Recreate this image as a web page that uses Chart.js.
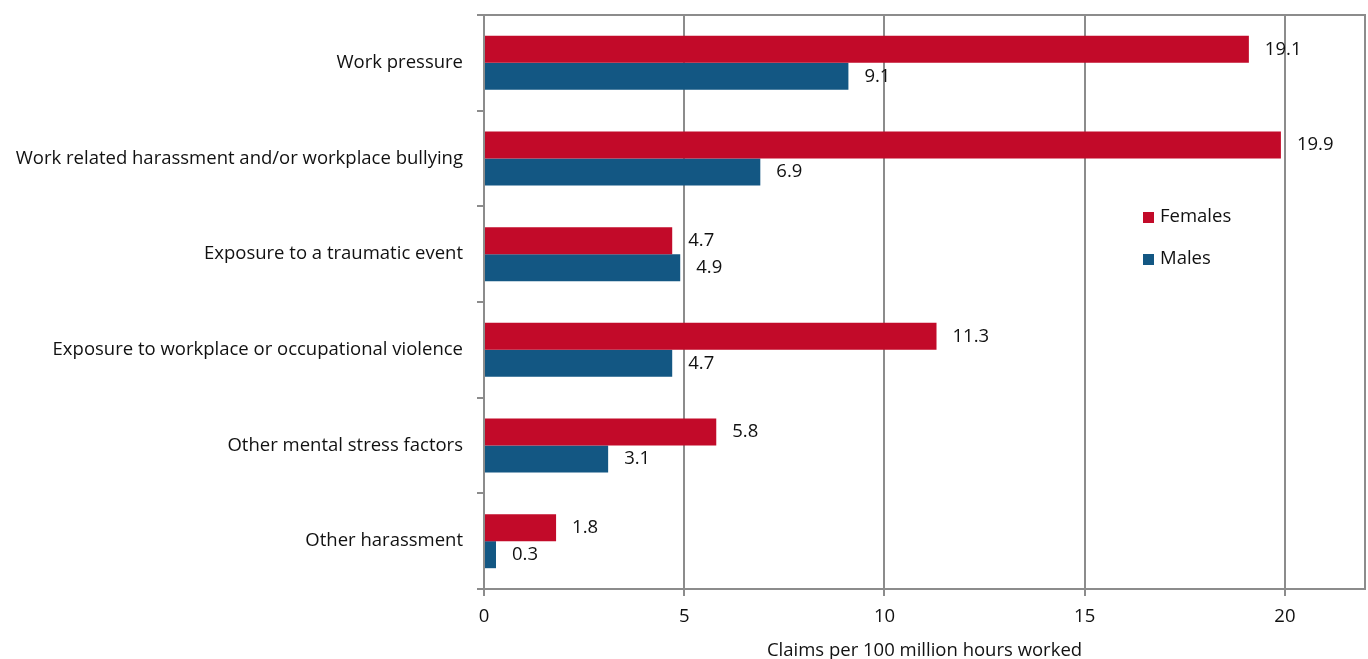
<!DOCTYPE html>
<html>
<head>
<meta charset="utf-8">
<script src="https://cdn.jsdelivr.net/npm/chart.js@4/dist/chart.umd.min.js"></script>
<style>
html,body{margin:0;padding:0;background:#fff;}
#wrap{width:1368px;height:659px;}
</style>
</head>
<body>
<div id="wrap"><canvas id="c" width="1368" height="659"></canvas></div>
<script>
const categories = [
  "Work pressure",
  "Work related harassment and/or workplace bullying",
  "Exposure to a traumatic event",
  "Exposure to workplace or occupational violence",
  "Other mental stress factors",
  "Other harassment"
];
const females = [19.1, 19.9, 4.7, 11.3, 5.8, 1.8];
const males = [9.1, 6.9, 4.9, 4.7, 3.1, 0.3];
const seriesNames = ["Females", "Males"];
const xTitle = "Claims per 100 million hours worked";

const FONT = "'Open Sans', Lato, sans-serif";
const GRID = "#8c8c8c";
const FS = 18.5;

const labelsPlugin = {
  id: 'vals',
  afterDatasetsDraw(chart) {
    const ctx = chart.ctx;
    ctx.save();
    ctx.font = FS + "px " + FONT;
    ctx.fillStyle = "#111";
    ctx.textAlign = "left";
    ctx.textBaseline = "middle";
    chart.data.datasets.forEach((ds, i) => {
      const meta = chart.getDatasetMeta(i);
      meta.data.forEach((bar, j) => {
        ctx.fillText(ds.data[j].toFixed(1), bar.x + 16, bar.y);
      });
    });
    ctx.restore();
  }
};

const borderPlugin = {
  id: 'plotBorder',
  afterDraw(chart) {
    const a = chart.chartArea;
    const ctx = chart.ctx;
    ctx.save();
    ctx.strokeStyle = GRID;
    ctx.lineWidth = 2;
    ctx.beginPath();
    ctx.moveTo(a.left, a.top);
    ctx.lineTo(a.right, a.top);
    ctx.lineTo(a.right, a.bottom);
    ctx.stroke();
    // legend
    ctx.font = FS + "px " + FONT;
    ctx.textBaseline = "middle";
    ctx.textAlign = "left";
    chart.data.datasets.forEach((ds, i) => {
      const y = 217 + i * 42;
      ctx.fillStyle = ds.backgroundColor;
      ctx.fillRect(1143, y - 5, 11, 11);
      ctx.fillStyle = "#111";
      ctx.fillText(ds.label, 1160, y);
    });
    ctx.restore();
  }
};

new Chart(document.getElementById('c'), {
  type: 'bar',
  data: {
    labels: categories,
    datasets: [
      { label: seriesNames[0], data: females, backgroundColor: '#C20A29', borderWidth: 0 },
      { label: seriesNames[1], data: males, backgroundColor: '#135783', borderWidth: 0 }
    ]
  },
  options: {
    indexAxis: 'y',
    responsive: false,
    animation: false,
    devicePixelRatio: 1,
    layout: { padding: { top: 15, right: 3, left: 0, bottom: 0 } },
    categoryPercentage: 0.565,
    barPercentage: 1.0,
    plugins: {
      legend: { display: false },
      tooltip: { enabled: false }
    },
    scales: {
      x: {
        min: 0, max: 22,
        ticks: {
          stepSize: 5,
          padding: 10,
          color: '#111',
          font: { family: FONT, size: FS },
          callback: (v) => (v % 5 === 0 ? v : null)
        },
        grid: { color: GRID, lineWidth: 2, tickLength: 7, drawTicks: true },
        border: { color: GRID, width: 2 },
        title: {
          display: true, text: xTitle, color: '#111',
          font: { family: FONT, size: FS, lineHeight: 1.0 },
          padding: { top: 0, bottom: -1 }
        },
        afterFit(s) { s.height = 70; s.paddingLeft = 0; s.paddingRight = 0; }
      },
      y: {
        ticks: {
          padding: 14,
          color: '#111',
          font: { family: FONT, size: FS }
        },
        grid: { drawOnChartArea: false, color: GRID, lineWidth: 2, tickLength: 7, offset: true },
        border: { color: GRID, width: 2 },
        afterFit(s) { s.width = 484; s.paddingTop = 0; s.paddingBottom = 0; }
      }
    }
  },
  plugins: [labelsPlugin, borderPlugin]
});
</script>
</body>
</html>
